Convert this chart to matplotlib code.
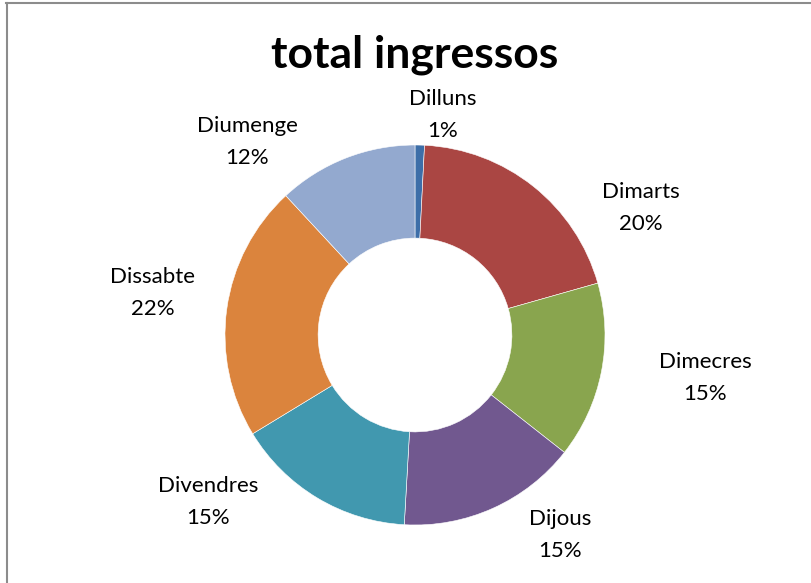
import matplotlib.pyplot as plt
from matplotlib.lines import Line2D

# dades
dies = ['Dilluns', 'Dimarts', 'Dimecres', 'Dijous', 'Divendres', 'Dissabte', 'Diumenge']
ingressos = [0.8, 19.8, 15.0, 15.3, 15.4, 21.8, 11.9]
percent_txt = ['1%', '20%', '15%', '15%', '15%', '22%', '12%']
colors = ['#3D6EA8', '#AA4643', '#89A54E', '#71588F', '#4198AF', '#DB843D', '#93A9CF']

# posicio de les etiquetes (unitats del radi)
label_pos = [(0.147, 1.158), (1.189, 0.668), (1.526, -0.226), (0.763, -1.053),
             (-1.089, -0.879), (-1.379, 0.221), (-0.884, 1.016)]

plt.rcParams['font.family'] = ['Lato', 'DejaVu Sans']

W, H = 811, 583
fig = plt.figure(figsize=(W / 100, H / 100), dpi=100)
ax = fig.add_axes([0, 0, 1, 1])

cx, cy, R = 415, 335, 190
ax.pie(ingressos, colors=colors, startangle=90, counterclock=False, radius=1,
       wedgeprops=dict(width=0.49, edgecolor='white', linewidth=0.4))
ax.set_aspect('auto')
ax.set_xlim(-cx / R, (W - cx) / R)
ax.set_ylim(-(H - cy) / R, cy / R)
ax.axis('off')

for name, pct, (x, y) in zip(dies, percent_txt, label_pos):
    ax.text(x, y, f'{name}\n{pct}', ha='center', va='center', fontsize=16,
            color='black', linespacing=1.7)

fig.text(415 / W, 1 - 55 / H, 'total ingressos', ha='center', va='center',
         fontsize=32, fontweight='bold')

# marc
fig.add_artist(Line2D([6 / W, 1], [1 - 2.5 / H, 1 - 2.5 / H], color='#8c8c8c', lw=1.5,
                      transform=fig.transFigure))
fig.add_artist(Line2D([6.5 / W, 6.5 / W], [0, 1 - 2.5 / H], color='#8c8c8c', lw=1.5,
                      transform=fig.transFigure))

fig.savefig('out.png', dpi=100)
